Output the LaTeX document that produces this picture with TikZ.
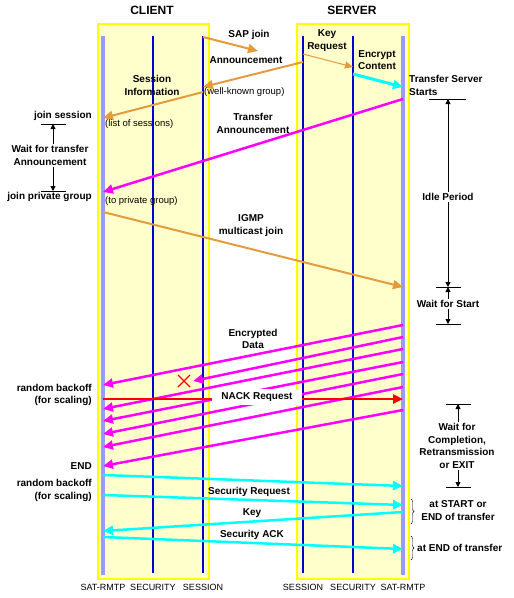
\documentclass[tikz,border=0pt]{standalone}
\usepackage{fontspec}
\setmainfont{Liberation Sans}
\usetikzlibrary{arrows.meta,positioning,decorations.pathreplacing}
\definecolor{paleyellow}{HTML}{FFFFCC}
\definecolor{boxyellow}{HTML}{FFFF00}
\definecolor{lifeblue}{HTML}{0000CC}
\definecolor{rmtpblue}{HTML}{9999FF}
\definecolor{sessorange}{HTML}{E39B3D}
\definecolor{datapink}{HTML}{FF00FF}
\definecolor{seccyan}{HTML}{00FFFF}
\definecolor{nackred}{HTML}{FF0000}

\tikzset{
  hosttitle/.style={font=\fontsize{12}{14}\selectfont\bfseries},
  lbl/.style={font=\fontsize{10}{12.7}\selectfont\bfseries, align=center, inner sep=1pt},
  smalltxt/.style={font=\fontsize{9.5}{11}\selectfont, inner sep=0pt},
  layername/.style={font=\fontsize{9}{10}\selectfont, inner sep=0pt},
  hostbox/.style={draw=boxyellow, fill=paleyellow, line width=1.5pt},
  life/.style={draw=lifeblue, line width=1.1pt},
  rmtp/.style={draw=rmtpblue, line width=4pt},
  msgtip/.style={-{Triangle[length=10pt,width=9pt]}},
  omsg/.style={msgtip, draw=sessorange, fill=sessorange, line width=2pt},
  pmsg/.style={msgtip, draw=datapink, fill=datapink, line width=2.5pt},
  cmsg/.style={msgtip, draw=seccyan, fill=seccyan, line width=2.5pt},
  dimarr/.style={-{Triangle[length=5pt,width=5pt]}, line width=0.8pt},
}

\begin{document}
\begin{tikzpicture}[x=1pt,y=-1pt]
\useasboundingbox (0,0) rectangle (514,598);

% client and server hosts
\draw[hostbox] (98,24) rectangle (209,579);
\draw[hostbox] (297,24) rectangle (409,579);
\node[hosttitle] (client) at (152,10) {CLIENT};
\node[hosttitle] (server) at (352,10) {SERVER};

\foreach \n/\x in {cSat/103,cSec/153,cSes/203,sSes/303,sSec/353,sSat/403}
  \coordinate (\n) at (\x,36);
\foreach \n in {cSec,cSes,sSes,sSec}
  \draw[life] (\n) -- (\n |- 0,573);
\draw[rmtp] (cSat) -- (cSat |- 0,575);
\draw[rmtp] (sSat) -- (sSat |- 0,575);
\foreach \n/\t in {cSat/SAT-RMTP,cSec/SECURITY,cSes/SESSION,sSes/SESSION,sSec/SECURITY,sSat/SAT-RMTP}
  \node[layername] (\n-name) at (\n |- 0,587) {\t};

% session announcement
\coordinate (sapEnd) at (258,51);
\draw[omsg] (cSes |- 0,37) -- (sapEnd);
\node[lbl] (sap) at (249,35) {SAP join};
\draw[omsg] (sSes |- 0,62) -- (cSes |- 0,87);
\node[lbl] (ann) at (246,60) {Announcement};
\node[smalltxt, anchor=west] (wellknown) at (204,92) {(well-known group)};
\draw[omsg] (cSes |- 0,92) -- (cSat |- 0,118);
\node[lbl] (sinfo) at (152,85.5) {Session\\Information};
\node[smalltxt, anchor=west] (sessions) at (105,124) {(list of sessions)};

% key and content
\draw[sessorange, fill=sessorange, line width=1pt, -{Triangle[length=8pt,width=7pt]}] (sSes |- 0,54) -- (sSec |- 0,67);
\node[lbl] (keyreq) at (327,40.5) {Key\\Request};
\node[lbl] (encrypt) at (377,60) {Encrypt\\Content};
\draw[cmsg, line width=3pt] (sSec |- 0,74) -- (sSat |- 0,87);
\node[lbl, anchor=west, align=left] (starts) at (408,85.5) {Transfer Server\\Starts};

% transfer announcement and join
\draw[pmsg] (sSat |- 0,99) -- (cSat |- 0,192);
\node[lbl] (tann) at (253,123.5) {Transfer\\Announcement};
\node[smalltxt, anchor=west] (private) at (105,201) {(to private group)};
\draw[omsg] (cSat |- 0,212) -- (sSat |- 0,287);
\node[lbl] (igmp) at (251,225.5) {IGMP\\multicast join};

% encrypted data
\foreach \a/\b in {325/385,349/409,362/421,374/434,387/447,410/466}
  \draw[pmsg] (sSat |- 0,\a) -- (cSat |- 0,\b);
\coordinate (lost) at (184,381);
\draw[pmsg] (sSat |- 0,337) -- ([xshift=9pt]lost);
\draw[nackred, line width=1.3pt] ([shift={(-6,-6)}]lost) -- ([shift={(6,6)}]lost)
  ([shift={(-6,6)}]lost) -- ([shift={(6,-6)}]lost);
\node[lbl] (encdata) at (253,339) {Encrypted\\Data};
\draw[msgtip, draw=nackred, fill=nackred, line width=2.5pt] (cSat |- 0,399) -- (sSat |- 0,399);
\node[lbl, fill=white, minimum width=90pt, minimum height=16pt] (nack) at (257,397) {NACK Request};

% security exchange
\draw[cmsg] (cSat |- 0,475) -- (sSat |- 0,486);
\draw[cmsg] (cSat |- 0,495) -- (sSat |- 0,505);
\node[lbl] (secreq) at (249,492) {Security Request};
\draw[cmsg] (sSat |- 0,512) -- (cSat |- 0,531);
\node[lbl] (key) at (252,513) {Key};
\draw[cmsg] (cSat |- 0,537) -- (sSat |- 0,549);
\node[lbl] (secack) at (252,535) {Security ACK};

% client side notes
\node[lbl, anchor=east] (joinsess) at (93,116) {join session};
\node[lbl] (waitann) at (50,155.5) {Wait for transfer\\Announcement};
\draw (41,124) -- (66,124) (41,191) -- (66,191);
\coordinate (waitTop) at (53,124);
\coordinate (waitBot) at (53,191);
\draw[dimarr] (waitann.north -| waitTop) -- (waitTop);
\draw[dimarr] (waitann.south -| waitBot) -- (waitBot);
\node[lbl, anchor=east] (joinpriv) at (93,197) {join private group};
\node[lbl, anchor=east, align=right] (backoff1) at (93,395) {random backoff\\(for scaling)};
\node[lbl, anchor=east] (endnote) at (93,466) {END};
\node[lbl, anchor=east, align=right] (backoff2) at (93,490.5) {random backoff\\(for scaling)};

% server side notes
\draw (429,99) -- (466,99) (436,287) -- (461,287) (436,324) -- (461,324);
\coordinate (idleTop) at (448,99);
\coordinate (idleBot) at (448,287);
\coordinate (startBot) at (448,324);
\node[lbl] (idle) at (448,197) {Idle Period};
\draw[dimarr] (idle) -- (idleTop);
\draw[dimarr] (idle) -- (idleBot);
\node[lbl] (waitstart) at (448,304) {Wait for Start};
\draw[dimarr] (waitstart) -- (idleBot);
\draw[dimarr] (waitstart) -- (startBot);
\draw (446,404) -- (471,404) (446,487) -- (471,487);
\coordinate (doneTop) at (458,404);
\coordinate (doneBot) at (458,487);
\node[lbl] (waitdone) at (457,446) {Wait for\\Completion,\\Retransmission\\or EXIT};
\draw[dimarr] (waitdone.north -| doneTop) -- (doneTop);
\draw[dimarr] (waitdone.south -| doneBot) -- (doneBot);
\draw[decorate, decoration={brace, amplitude=3pt}] (411,499) -- (411,524);
\node[lbl] (startend) at (458,510.5) {at START or\\END of transfer};
\draw[decorate, decoration={brace, amplitude=3pt}] (411,536) -- (411,560);
\node[lbl, anchor=west] (atend) at (416,548) {at END of transfer};
\end{tikzpicture}
\end{document}
